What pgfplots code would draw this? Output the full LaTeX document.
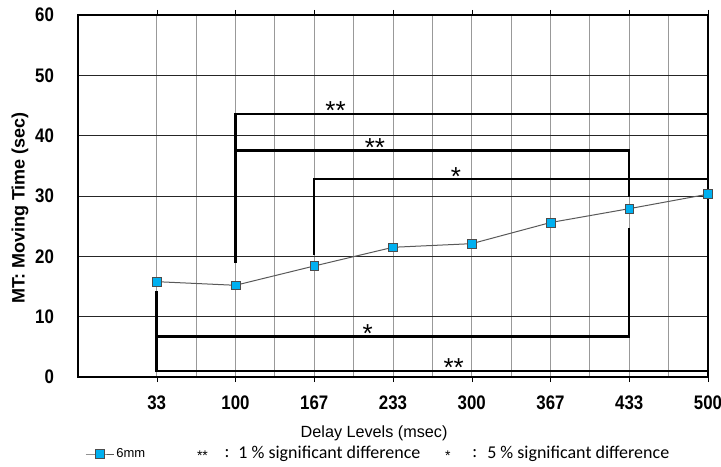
\documentclass[border=0pt]{standalone}
\usepackage{fontspec}
\setmainfont{Liberation Sans}
\newfontfamily\narrowbf[FakeStretch=0.86]{Liberation Sans Bold}
\newfontfamily\carlito{Carlito}
\usepackage{pgfplots}
\pgfplotsset{compat=1.18}
\definecolor{mk}{RGB}{0,176,240}
\begin{document}
\begin{tikzpicture}
\path[use as bounding box] (-39pt,-44.5pt) rectangle (321.5pt,188.5pt);
\begin{axis}[
  scale only axis, width=315pt, height=181pt,
  xmin=-1, xmax=7, ymin=0, ymax=60,
  xtick={0,...,7}, xticklabels={33,100,167,233,300,367,433,500},
  ytick={0,10,...,60},
  minor x tick num=1,
  xmajorgrids, xminorgrids, ymajorgrids,
  x grid style={black!40, line width=0.4pt},
  y grid style={black!85, line width=0.45pt},
  axis line style={black, line width=0.6pt},
  tick align=outside, major tick length=2.5pt, minor tick length=0pt,
  ytick style={draw=none},
  xtick style={black},
  tick label style={font=\fontsize{9.8}{11}\narrowbf},
  /pgf/number format/assume math mode=true,
  xticklabel style={yshift=-3.5pt},
  yticklabel style={xshift=-6pt},
  ylabel={MT: Moving Time (sec)},
  ylabel style={font=\fontsize{9}{10}\selectfont\bfseries,
    at={(axis description cs:-0.092,0.467)}, anchor=center, rotate=0},
  clip=false,
  legend style={at={(0.011,-0.2127)}, anchor=west, draw=none, fill=none,
    font=\fontsize{6.5}{7}\selectfont, inner sep=0pt,
    nodes={inner sep=1pt}},
  legend image code/.code={%
    \draw[mark repeat=2, mark phase=2, #1] plot coordinates {(0pt,0pt) (7pt,0pt) (14pt,0pt)};},
  legend cell align=left,
]
\addplot[black!65, line width=0.5pt, mark=square*, mark size=2.2pt,
  mark options={fill=mk, draw=black!70, line width=0.3pt}]
  coordinates {(0,15.8) (1,15.2) (2,18.4) (3,21.5) (4,22.1) (5,25.6) (6,27.9) (7,30.3)};
\addlegendentry{6mm}
% significance brackets
\addplot[black, line width=1.25pt, forget plot] coordinates {(1,18.9) (1,43.6) (7,43.6) (7,32.8)};
\addplot[black, line width=1.25pt, forget plot] coordinates {(1,37.5) (6,37.5) (6,29.9)};
\addplot[black, line width=1.25pt, forget plot] coordinates {(2,20.2) (2,32.8) (7,32.8)};
\addplot[black, line width=1.25pt, forget plot] coordinates {(6,24.7) (6,6.7) (0,6.7)};
\addplot[black, line width=1.25pt, forget plot] coordinates {(7,28.5) (7,1.0) (0,1.0) (0,14.2)};
\tikzset{star/.style={anchor=base, inner sep=0pt, font=\fontsize{13}{13}\selectfont}}
\node[star] at (axis cs:2.27,42.6) {**};
\node[star] at (axis cs:2.77,36.5) {**};
\node[star] at (axis cs:3.80,31.8) {*};
\node[star] at (axis cs:2.68,5.7) {*};
\node[star] at (axis cs:3.77,0.1) {**};
% x label and significance legend
\node[font=\fontsize{8.1}{10}\selectfont, inner sep=0pt] at (axis description cs:0.47,-0.1547) {Delay Levels (msec)};
\node[font=\fontsize{7}{7}\selectfont, inner sep=0pt] at (axis description cs:0.1976,-0.2175) {**};
\node[font=\fontsize{9}{10}\carlito, inner sep=0pt] at (axis description cs:0.2365,-0.2127) {:};
\node[anchor=west, font=\fontsize{9}{10}\carlito, inner sep=0pt] at (axis description cs:0.254,-0.2127) {1 \% significant difference};
\node[font=\fontsize{7}{7}\selectfont, inner sep=0pt] at (axis description cs:0.587,-0.2175) {*};
\node[font=\fontsize{9}{10}\carlito, inner sep=0pt] at (axis description cs:0.630,-0.2127) {:};
\node[anchor=west, font=\fontsize{9}{10}\carlito, inner sep=0pt] at (axis description cs:0.649,-0.2127) {5 \% significant difference};
\end{axis}
\end{tikzpicture}
\end{document}
